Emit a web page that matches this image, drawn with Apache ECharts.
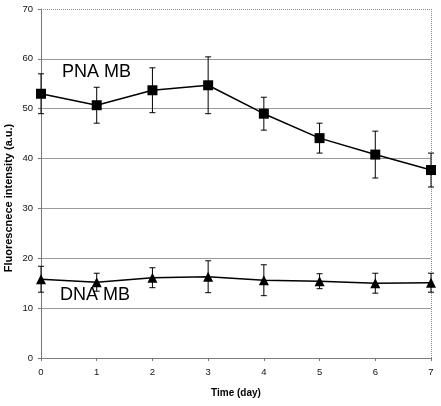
<!DOCTYPE html>
<html>
<head>
<meta charset="utf-8">
<script src="https://cdn.jsdelivr.net/npm/echarts@6/dist/echarts.min.js"></script>
<style>html,body{margin:0;padding:0;background:#fff}#c{width:441px;height:406px}</style>
</head>
<body>
<div id="c"></div>
<script>
const days = [0, 1, 2, 3, 4, 5, 6, 7];
const pnaMean = [53.0, 50.7, 53.7, 54.7, 49.0, 44.1, 40.8, 37.7];
const pnaErr  = [4.0, 3.6, 4.5, 5.7, 3.3, 3.0, 4.7, 3.4];
const dnaMean = [15.8, 15.2, 16.1, 16.3, 15.6, 15.4, 15.0, 15.1];
const dnaErr  = [2.6, 1.8, 2.0, 3.2, 3.1, 1.5, 2.0, 1.9];
const yTicks = [0, 10, 20, 30, 40, 50, 60, 70];

const chart = echarts.init(document.getElementById('c'));
const font = 'Arial, "Liberation Sans", sans-serif';

function errData(mean, err) {
  return days.map((d, i) => [d, mean[i] - err[i], mean[i] + err[i]]);
}
function errSeries(mean, err) {
  return {
    type: 'custom',
    data: errData(mean, err),
    z: 3,
    silent: true,
    renderItem: function (params, api) {
      const x = api.value(0);
      const lo = api.coord([x, api.value(1)]);
      const hi = api.coord([x, api.value(2)]);
      const cw = 3;
      const st = { stroke: '#000', lineWidth: 1 };
      return {
        type: 'group',
        children: [
          { type: 'line', shape: { x1: lo[0], y1: lo[1], x2: hi[0], y2: hi[1] }, style: st },
          { type: 'line', shape: { x1: lo[0] - cw, y1: lo[1], x2: lo[0] + cw, y2: lo[1] }, style: st },
          { type: 'line', shape: { x1: hi[0] - cw, y1: hi[1], x2: hi[0] + cw, y2: hi[1] }, style: st }
        ]
      };
    }
  };
}

chart.setOption({
  animation: false,
  grid: { left: 41, right: 10, top: 9, bottom: 48, show: false },
  xAxis: {
    type: 'value', min: 0, max: 7, interval: 1,
    axisLine: { show: true, onZero: false, lineStyle: { color: '#777', width: 1, type: 'dotted' } },
    axisTick: { show: true, length: 3, inside: false, lineStyle: { color: '#777' } },
    axisLabel: { color: '#111', fontSize: 9.5, fontFamily: font, margin: 9 },
    splitLine: { show: false }
  },
  yAxis: {
    type: 'value', min: 0, max: 70, interval: 10,
    axisLine: { show: true, lineStyle: { color: '#777', width: 1 } },
    axisTick: { show: true, length: 3, lineStyle: { color: '#777' } },
    axisLabel: { color: '#111', fontSize: 9.5, fontFamily: font, margin: 8,
      formatter: v => yTicks.includes(v) ? String(v) : '' },
    splitLine: { show: true, lineStyle: { color: '#9a9a9a', width: 1 } }
  },
  graphic: [
    { type: 'line', shape: { x1: 42, y1: 9.5, x2: 431, y2: 9.5 }, style: { stroke: '#fff', lineWidth: 1.5 }, z: 1 },
    { type: 'line', shape: { x1: 41, y1: 9.5, x2: 431, y2: 9.5 }, style: { stroke: '#888', lineDash: [1, 1], lineWidth: 1 }, z: 2 },
    { type: 'line', shape: { x1: 431.5, y1: 9, x2: 431.5, y2: 358 }, style: { stroke: '#888', lineDash: [1, 1], lineWidth: 1 }, z: 2 },
    { type: 'text', x: 62, y: 72, style: { text: 'PNA MB', font: '18px ' + font, fill: '#000', verticalAlign: 'middle' }, z: 20 },
    { type: 'text', x: 60, y: 295, style: { text: 'DNA MB', font: '18px ' + font, fill: '#000', verticalAlign: 'middle' }, z: 20 },
    { type: 'text', x: 9, y: 198, rotation: Math.PI / 2,
      style: { text: 'Fluorescnece intensity (a.u.)', font: 'bold 11px ' + font, fill: '#000', align: 'center', verticalAlign: 'middle' } },
    { type: 'text', x: 236, y: 393,
      style: { text: 'Time (day)', font: 'bold 10px ' + font, fill: '#000', align: 'center', verticalAlign: 'middle' } }
  ],
  series: [
    errSeries(pnaMean, pnaErr),
    errSeries(dnaMean, dnaErr),
    {
      type: 'line', name: 'PNA MB', z: 4,
      data: days.map((d, i) => [d, pnaMean[i]]),
      symbol: 'rect', symbolSize: 10,
      lineStyle: { color: '#000', width: 1.5 },
      itemStyle: { color: '#000' }
    },
    {
      type: 'line', name: 'DNA MB', z: 4,
      data: days.map((d, i) => [d, dnaMean[i]]),
      symbol: 'triangle', symbolSize: 10,
      lineStyle: { color: '#000', width: 1.5 },
      itemStyle: { color: '#000' }
    }
  ]
});
</script>
</body>
</html>
